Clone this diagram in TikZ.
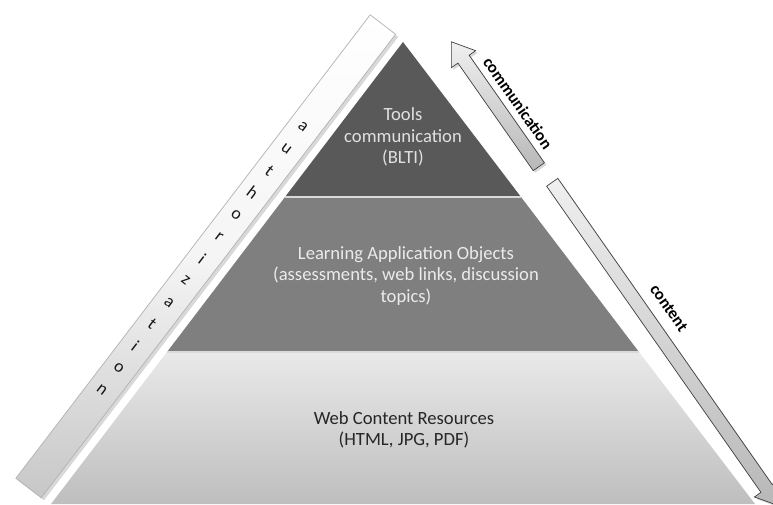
\documentclass[tikz,border=0pt]{standalone}
\usepackage{fontspec}
\setmainfont{Carlito}
\usetikzlibrary{shapes.arrows,shadows,calc}
\definecolor{tiertop}{HTML}{595959}
\definecolor{tiermid}{HTML}{7F7F7F}
\definecolor{tierlow}{HTML}{E9E9E9}
\definecolor{tierbase}{HTML}{BEBEBE}

\begin{document}
\begin{tikzpicture}[x=0.02cm,y=-0.02cm,
    tiertext/.style={align=center,font=\fontsize{10.6}{12.2}\selectfont},
    flowarrow/.style={single arrow,draw=black!75,thin,inner xsep=0pt,inner ysep=0.13cm,
        single arrow head extend=0.16cm,single arrow tip angle=70,
        top color=black!6,bottom color=black!28,
        drop shadow={shadow xshift=1.2pt,shadow yshift=-1.2pt,opacity=.3}},
    flowlabel/.style={font=\fontsize{9.5}{11}\selectfont\bfseries,rotate=-55}]
    \useasboundingbox (0,0) rectangle (773,504);
    \fill[white] (0,0) rectangle (773,504);
    \coordinate (apex) at (403,42);
    \coordinate (l1) at (285,197);
    \coordinate (r1) at (521,197);
    \coordinate (l2) at (167,352);
    \coordinate (r2) at (639,352);
    \coordinate (l3) at (51,504);
    \coordinate (r3) at (755,504);
    \fill[tiertop] (apex) -- (r1) -- (l1) -- cycle;
    \fill[tiermid] (l1) -- (r1) -- (r2) -- (l2) -- cycle;
    \shade[top color=tierlow,bottom color=tierbase] (l2) -- (r2) -- (r3) -- (l3) -- cycle;
    \draw[white!70!gray,line width=0.6pt] (l1) -- (r1) (l2) -- (r2);
    \node[tiertext,text=black!12] (tools) at (403,137) {Tools\\communication\\(BLTI)};
    \node[tiertext,text=black!8] (objects) at (406,276)
        {Learning Application Objects\\(assessments, web links, discussion\\topics)};
    \node[tiertext,text=black!85] (resources) at (404,430) {Web Content Resources\\(HTML, JPG, PDF)};
    \node[draw=black!30,rotate=52.6,inner sep=0pt,minimum width=11.67cm,minimum height=0.64cm,
        top color=white,bottom color=black!22,middle color=white!96!black,
        drop shadow={shadow xshift=1.5pt,shadow yshift=-1.5pt,opacity=.3}] (bar) at (205.75,256.25) {};
    \coordinate (first) at (303,127);
    \coordinate (last) at (102,390);
    \foreach \ch [count=\i] in {a,u,t,h,o,r,i,z,a,t,i,o,n}
        \node[rotate=-37.4,font=\fontsize{10}{11}\selectfont,text=black!90,inner sep=0pt]
            (ltr\i) at ($(first)!{(\i-1)/12}!(last)$) {\ch};
    \node[flowarrow,rotate=125,anchor=tail,minimum height=3.05cm] (comm) at (539,167) {};
    \node[flowarrow,rotate=-55,anchor=tail,minimum height=7.9cm] (cont) at (552,182) {};
    \node[flowlabel] (commlabel) at (518,103) {communication};
    \node[flowlabel] (contlabel) at (669,308) {content};
\end{tikzpicture}
\end{document}
